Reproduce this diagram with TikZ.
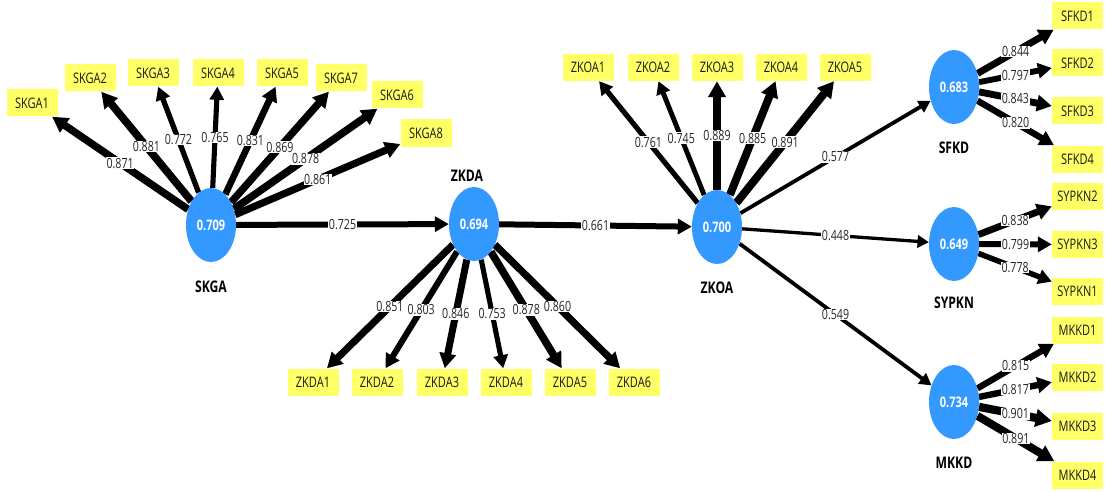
\documentclass[tikz,border=0pt]{standalone}
\usepackage{fontspec}
\setmainfont[FakeStretch=0.76]{Open Sans}
\usetikzlibrary{arrows.meta,shapes.geometric,backgrounds}
\definecolor{lvblue}{RGB}{51,153,255}
\definecolor{indyellow}{RGB}{255,255,102}
\begin{document}
\begin{tikzpicture}[x=1pt,y=-1pt,
 lv/.style={ellipse, fill=lvblue, minimum width=50pt, minimum height=74pt, inner sep=0pt, text=white, font=\fontsize{14.5}{16}\selectfont\bfseries},
 ind/.style={rectangle, fill=indyellow, minimum width=51pt, minimum height=27pt, inner sep=0pt, font=\fontsize{14.5}{16}\selectfont, text=black!90},
 lvname/.style={font=\fontsize{16}{18}\selectfont\bfseries},
 ld/.style={line width=#1pt, -{Triangle[length=8pt 1, width=9pt 1]}},
 lab/.style={fill=white, inner sep=0.6pt, font=\fontsize{14}{15}\selectfont, text=black!85}
]
\path[use as bounding box] (0,0) rectangle (1105,492);

% latent variables
\node[lv] (skga) at (211,225) {0.709};
\node[lv] (zkda) at (474,224) {0.694};
\node[lv] (zkoa) at (717,227) {0.700};
\node[lv] (sfkd) at (954,87) {0.683};
\node[lv] (sypkn) at (954,244) {0.649};
\node[lv] (mkkd) at (954,402) {0.734};

\node[lvname] (nskga) at (211,287) {SKGA};
\node[lvname] (nzkda) at (467,176) {ZKDA};
\node[lvname] (nzkoa) at (717,288) {ZKOA};
\node[lvname] (nsfkd) at (954,148) {SFKD};
\node[lvname] (nsypkn) at (954,303) {SYPKN};
\node[lvname] (nmkkd) at (954,463) {MKKD};

% indicators SKGA
\node[ind] (skga1) at (32,103) {SKGA1};
\node[ind] (skga2) at (90,78) {SKGA2};
\node[ind] (skga3) at (153,73) {SKGA3};
\node[ind] (skga4) at (218,73) {SKGA4};
\node[ind] (skga5) at (282,73) {SKGA5};
\node[ind] (skga7) at (341,78) {SKGA7};
\node[ind] (skga6) at (397,95) {SKGA6};
\node[ind] (skga8) at (426,133) {SKGA8};
% indicators ZKDA
\node[ind] (zkda1) at (313,382) {ZKDA1};
\node[ind] (zkda2) at (377,382) {ZKDA2};
\node[ind] (zkda3) at (442,382) {ZKDA3};
\node[ind] (zkda4) at (506,382) {ZKDA4};
\node[ind] (zkda5) at (570,382) {ZKDA5};
\node[ind] (zkda6) at (634,382) {ZKDA6};
% indicators ZKOA
\node[ind] (zkoa1) at (588,67.5) {ZKOA1};
\node[ind] (zkoa2) at (653,67.5) {ZKOA2};
\node[ind] (zkoa3) at (717,67.5) {ZKOA3};
\node[ind] (zkoa4) at (781,67.5) {ZKOA4};
\node[ind] (zkoa5) at (845,67.5) {ZKOA5};
% indicators SFKD
\node[ind] (sfkd1) at (1077.5,16) {SFKD1};
\node[ind] (sfkd2) at (1077.5,63) {SFKD2};
\node[ind] (sfkd3) at (1077.5,111) {SFKD3};
\node[ind] (sfkd4) at (1077.5,159) {SFKD4};
% indicators SYPKN
\node[ind] (sypkn2) at (1077.5,196.5) {SYPKN2};
\node[ind] (sypkn3) at (1077.5,244.5) {SYPKN3};
\node[ind] (sypkn1) at (1077.5,291.5) {SYPKN1};
% indicators MKKD
\node[ind] (mkkd1) at (1077.5,330) {MKKD1};
\node[ind] (mkkd2) at (1077.5,377) {MKKD2};
\node[ind] (mkkd3) at (1077.5,426) {MKKD3};
\node[ind] (mkkd4) at (1077.5,475) {MKKD4};

\begin{scope}[on background layer]
\fill[white] (0,0) rectangle (1105,492);
% SKGA loadings
\draw[ld=7.5] (skga) -- node[lab]{0.871} (skga1);
\draw[ld=7.7] (skga) -- node[lab]{0.881} (skga2);
\draw[ld=5.3] (skga) -- node[lab]{0.772} (skga3);
\draw[ld=5.1] (skga) -- node[lab]{0.765} (skga4);
\draw[ld=6.6] (skga) -- node[lab]{0.831} (skga5);
\draw[ld=7.4] (skga) -- node[lab]{0.869} (skga7);
\draw[ld=7.6] (skga) -- node[lab]{0.878} (skga6);
\draw[ld=7.2] (skga) -- node[lab]{0.861} (skga8);
% ZKDA loadings
\draw[ld=7.1] (zkda) -- node[lab]{0.851} (zkda1);
\draw[ld=6.1] (zkda) -- node[lab]{0.803} (zkda2);
\draw[ld=7.0] (zkda) -- node[lab]{0.846} (zkda3);
\draw[ld=5.1] (zkda) -- node[lab]{0.753} (zkda4);
\draw[ld=7.6] (zkda) -- node[lab]{0.878} (zkda5);
\draw[ld=7.2] (zkda) -- node[lab]{0.860} (zkda6);
% ZKOA loadings
\draw[ld=5.2] (zkoa) -- node[lab]{0.761} (zkoa1);
\draw[ld=4.9] (zkoa) -- node[lab]{0.745} (zkoa2);
\draw[ld=8.0] (zkoa) -- node[lab]{0.889} (zkoa3);
\draw[ld=7.9] (zkoa) -- node[lab]{0.885} (zkoa4);
\draw[ld=8.0] (zkoa) -- node[lab]{0.891} (zkoa5);
% SFKD loadings
\draw[ld=6.9] (sfkd) -- node[lab]{0.844} (sfkd1);
\draw[ld=5.9] (sfkd) -- node[lab]{0.797} (sfkd2);
\draw[ld=6.9] (sfkd) -- node[lab]{0.843} (sfkd3);
\draw[ld=6.4] (sfkd) -- node[lab]{0.820} (sfkd4);
% SYPKN loadings
\draw[ld=6.8] (sypkn) -- node[lab]{0.838} (sypkn2);
\draw[ld=5.9] (sypkn) -- node[lab]{0.799} (sypkn3);
\draw[ld=5.5] (sypkn) -- node[lab]{0.778} (sypkn1);
% MKKD loadings
\draw[ld=6.3] (mkkd) -- node[lab]{0.815} (mkkd1);
\draw[ld=6.4] (mkkd) -- node[lab]{0.817} (mkkd2);
\draw[ld=8.2] (mkkd) -- node[lab]{0.901} (mkkd3);
\draw[ld=8.0] (mkkd) -- node[lab]{0.891} (mkkd4);
% structural paths
\draw[ld=6] (skga) -- node[lab]{0.725} (zkda);
\draw[ld=6] (zkda) -- node[lab]{0.661} (zkoa);
\draw[ld=3.8] (zkoa) -- node[lab]{0.577} (sfkd);
\draw[ld=3.3] (zkoa) -- node[lab]{0.448} (sypkn);
\draw[ld=3.8] (zkoa) -- node[lab]{0.549} (mkkd);
\end{scope}
\end{tikzpicture}
\end{document}
